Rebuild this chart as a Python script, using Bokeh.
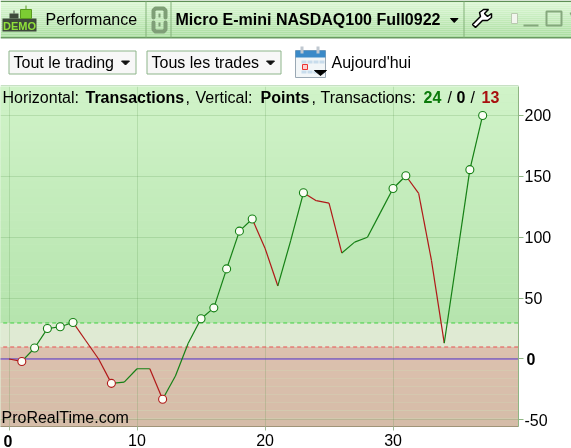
from bokeh.plotting import figure
from bokeh.models import Range1d, LinearAxis, FixedTicker, Label
from bokeh.core.properties import value
from bokeh.embed import file_html
from bokeh.resources import INLINE

# ---- data ----
trades = list(range(38))
points = [0, -2, 9, 25, 26.5, 30, 15, 0, -20, -19, -8, -8, -33, -14, 13, 33, 42, 74, 105, 115,
          91, 60, 97, 136.5, 130, 128, 87, 96, 100, 120, 140, 150.5, 136, 81, 13, 84, 155.5, 200]
marked = [1, 2, 3, 4, 5, 8, 12, 15, 16, 17, 18, 19, 23, 30, 31, 36, 37]
x_ticks = [0, 10, 20, 30]
y_ticks = [-50, 0, 50, 100, 150, 200]
y_band_high = 29.57
y_band_low = 9.86
x_labels = {10: "10", 20: "20", 30: "30", 0: ""}
y_labels = {-50: "-50", 0: "", 50: "50", 100: "100", 150: "150", 200: "200"}

FONT = "Liberation Sans"
W, H_HEAD, H_MAIN = 571, 86, 362


def lerp(a, b, t):
    return "#%02x%02x%02x" % tuple(round(a[i] + (b[i] - a[i]) * t) for i in range(3))


def fixed(top):
    return {"position": "fixed", "left": "0px", "top": f"{top}px"}


# ---- header figure (toolbar chrome) ----
h = figure(width=W, height=H_HEAD, output_backend="svg", toolbar_location=None,
           x_range=Range1d(0, W), y_range=Range1d(H_HEAD, 0),
           min_border=0, outline_line_color=None, background_fill_color="white",
           border_fill_color="white", x_axis_location=None, y_axis_location=None,
           styles=fixed(0))
h.grid.visible = False


def txt(fig, x, y, s, size=16, color="#000000", style="normal", align="left"):
    fig.text([x], [y], text=[s], text_font=value(FONT), text_font_size=f"{size}px",
             text_color=color, text_font_style=style, text_baseline="middle", text_align=align)


def rect(fig, l, r, t, b, fill, line=None):
    fig.quad(left=[l], right=[r], top=[t], bottom=[b], fill_color=fill, line_color=line)


# title-bar gradient
n = 18
for i in range(n):
    rect(h, 0, W, 1 + i * 36 / n, 1 + (i + 1) * 36 / n,
         lerp((220, 247, 212), (170, 222, 160), i / (n - 1)))
rect(h, 0, W, 0, 1.5, "#5f8f57")
rect(h, 0, W, 36.5, 38, "#6a9a62")
for sx in (145.5, 170.5, 463.5):
    rect(h, sx - 0.5, sx + 0.5, 1, 37, "#83b27b")
rect(h, 0, 518, 85, 86, "#8fc28a")

# DEMO icon
rect(h, 2, 36, 18, 31, "#3d4a3a")
rect(h, 20, 31, 9, 18, "#7ccc33", "#5a9a20")
rect(h, 25, 26, 5, 9, "#5a9a20")
rect(h, 9, 18, 13, 18, "#3d4a3a")
rect(h, 13, 14, 10, 13, "#3d4a3a")
txt(h, 2.5, 25, "DEMO", 11, "#8fe03a", "bold")
txt(h, 45, 19, "Performance", 16)

# link icon
h.line([153, 153, 155, 163, 165, 165], [17, 10, 8, 8, 10, 17], line_color="#7f9f77", line_width=4,
       line_join="round", line_cap="round")
h.line([153, 153, 155, 163, 165, 165], [22, 29, 31, 31, 29, 22], line_color="#7f9f77", line_width=4,
       line_join="round", line_cap="round")
h.line([159, 159], [13, 17], line_color="#7f9f77", line_width=2)
h.line([159, 159], [22, 26], line_color="#7f9f77", line_width=2)

txt(h, 175, 19, "Micro E-mini NASDAQ100 Full0922", 16, style="bold")
h.patch([450, 457.5, 453.7], [18, 18, 22], color="#000000")

# wrench
h.patch([472, 480, 479, 483, 488, 484, 487, 491, 491, 487, 482, 475, 472],
        [24, 16, 12, 9, 9, 13, 16, 13, 17, 20, 20, 27, 24],
        fill_color="white", line_color="#000000", line_width=1.5)

# window buttons
rect(h, 511, 517, 13, 23, "#f2f6ee", "#b9c9b0")
rect(h, 523, 538, 24, 26, "#86a87e")
h.quad(left=[546], right=[561], top=[11], bottom=[25], fill_color=None,
       line_color="#86a87e", line_width=2)
h.segment([570], [12], [576], [25], line_color="#86a87e", line_width=2)

# dropdown buttons
for l, r, s, tx, tri in ((8.5, 135.5, "Tout le trading", 13, 121), (146.5, 280.5, "Tous les trades", 151, 266)):
    rect(h, l, r, 50.5, 73.5, "#f7f7f7", "#8db58a")
    txt(h, tx, 62, s, 16)
    h.patch([tri, tri + 8, tri + 4], [60.5, 60.5, 64.5], color="#111111")

# calendar icon
rect(h, 295, 325, 50, 77, "#f2f6f8", "#9aa8b4")
rect(h, 295, 325, 50, 57, "#3b8ac8")
rect(h, 300, 303, 46, 53, "#c0c8d0")
rect(h, 316, 319, 46, 53, "#c0c8d0")
for gx in (301, 307, 313, 319):
    rect(h, gx, gx + 5, 60, 63, "#c8dcec")
    rect(h, gx, gx + 5, 70, 73, "#c8dcec")
rect(h, 302, 307, 64, 69, "#fbd0d0", "#ee3333")
h.patch([314, 326, 320], [70, 70, 75], color="#000000")
txt(h, 331, 62, "Aujourd'hui", 16)

# ---- main figure ----
top, bottom = 223.8, -55.44
p = figure(width=W, height=H_MAIN, frame_width=518, frame_height=340,
           output_backend="svg", toolbar_location=None,
           x_range=Range1d(-0.664, 39.8), y_range=Range1d(bottom, top),
           min_border_left=0, min_border_top=0, min_border_right=53, min_border_bottom=22,
           background_fill_color="#c8efc0", border_fill_color="white",
           outline_line_color=None, y_axis_location=None, x_axis_location=None,
           styles=fixed(H_HEAD))

# background gradient bands
n = 30
for i in range(n):
    t0 = top - (top - y_band_high) * i / n
    t1 = top - (top - y_band_high) * (i + 1) / n
    p.quad(left=[-1], right=[41], top=[t0], bottom=[t1], line_color=None, level="image",
           fill_color=lerp((208, 243, 200), (182, 228, 174), i / (n - 1)))
p.quad(left=[-1], right=[41], top=[y_band_high], bottom=[y_band_low], line_color=None,
       level="image", fill_color="#dfead3")
for i in range(10):
    t0 = y_band_low - (y_band_low - bottom) * i / 10
    t1 = y_band_low - (y_band_low - bottom) * (i + 1) / 10
    p.quad(left=[-1], right=[41], top=[t0], bottom=[t1], line_color=None, level="image",
           fill_color=lerp((220, 193, 174), (213, 188, 168), i / 9))

xax = LinearAxis(ticker=FixedTicker(ticks=x_ticks), major_label_overrides=x_labels,
                 axis_line_color="#a09478", axis_line_width=1, major_tick_out=4, major_tick_in=0,
                 minor_tick_line_color=None, major_tick_line_color="#9fb896",
                 major_label_text_font=FONT, major_label_text_font_size="16px",
                 major_label_text_color="#000000", major_label_standoff=3)
yax = LinearAxis(ticker=FixedTicker(ticks=y_ticks), major_label_overrides=y_labels,
                 axis_line_color="#8fb583", axis_line_width=1, major_tick_out=5, major_tick_in=0,
                 minor_tick_line_color=None, major_tick_line_color="#8fb583",
                 major_label_text_font=FONT, major_label_text_font_size="16px",
                 major_label_text_color="#000000", major_label_standoff=1)
p.add_layout(xax, "below")
p.add_layout(yax, "right")
p.xgrid.ticker = FixedTicker(ticks=x_ticks)
p.ygrid.ticker = FixedTicker(ticks=y_ticks)
for g in (p.xgrid[0], p.ygrid[0]):
    g.grid_line_color = "#4f8f45"
    g.grid_line_alpha = 0.2
    g.grid_line_width = 1

# reference lines
p.segment([-1], [y_band_high], [41], [y_band_high], line_color="#3fd03f", line_dash="4 3", line_width=1)
p.segment([-1], [y_band_low], [41], [y_band_low], line_color="#ea5050", line_dash="4 3", line_width=1)
p.segment([-1], [0], [41], [0], line_color="#5f35d8", line_width=1)

# equity curve
seg_col = ["#b01818" if points[i + 1] < points[i] else "#158015" for i in range(len(points) - 1)]
p.segment(trades[:-1], points[:-1], trades[1:], points[1:], line_color=seg_col, line_width=1.2)
p.scatter([trades[i] for i in marked], [points[i] for i in marked], size=8, marker="circle",
          fill_color="#fbfdf5", line_width=1.1,
          line_color=["#b01818" if points[i] < 0 else "#158015" for i in marked])


def lab(x, page_y, s, color="#000000", style="normal"):
    # screen y of a Label is measured up from the frame's bottom edge (page y = 426)
    p.add_layout(Label(x=x, y=426 - page_y, x_units="screen", y_units="screen", text=s,
                       text_font=FONT, text_font_size="16px", text_color=color,
                       text_font_style=style, text_baseline="middle"))


for x, s, c, st in ((2, "Horizontal:", "#000000", "normal"), (85, "Transactions", "#000000", "bold"),
                    (185, ",", "#000000", "normal"), (195, "Vertical:", "#000000", "normal"),
                    (260, "Points", "#000000", "bold"), (311, ",", "#000000", "normal"),
                    (320, "Transactions:", "#000000", "normal"), (423, "24", "#0b7a0b", "bold"),
                    (447, "/", "#000000", "normal"), (456, "0", "#000000", "bold"),
                    (470, "/", "#000000", "normal"), (481, "13", "#a80f0f", "bold")):
    lab(x, 96.5, s, c, st)

lab(1, 416.5, "ProRealTime.com")

# overlay with the two bold zero tick labels, which lie outside the frame
o = figure(width=W, height=448, output_backend="svg", toolbar_location=None,
           x_range=Range1d(0, W), y_range=Range1d(448, 0), min_border=0,
           outline_line_color=None, background_fill_alpha=0, border_fill_alpha=0,
           x_axis_location=None, y_axis_location=None, styles=fixed(0))
o.grid.visible = False
txt(o, 526, 358, "0", 16, style="bold")
txt(o, 3, 440, "0", 16, style="bold")

open("out.html", "w").write(file_html([h, p, o], INLINE))
